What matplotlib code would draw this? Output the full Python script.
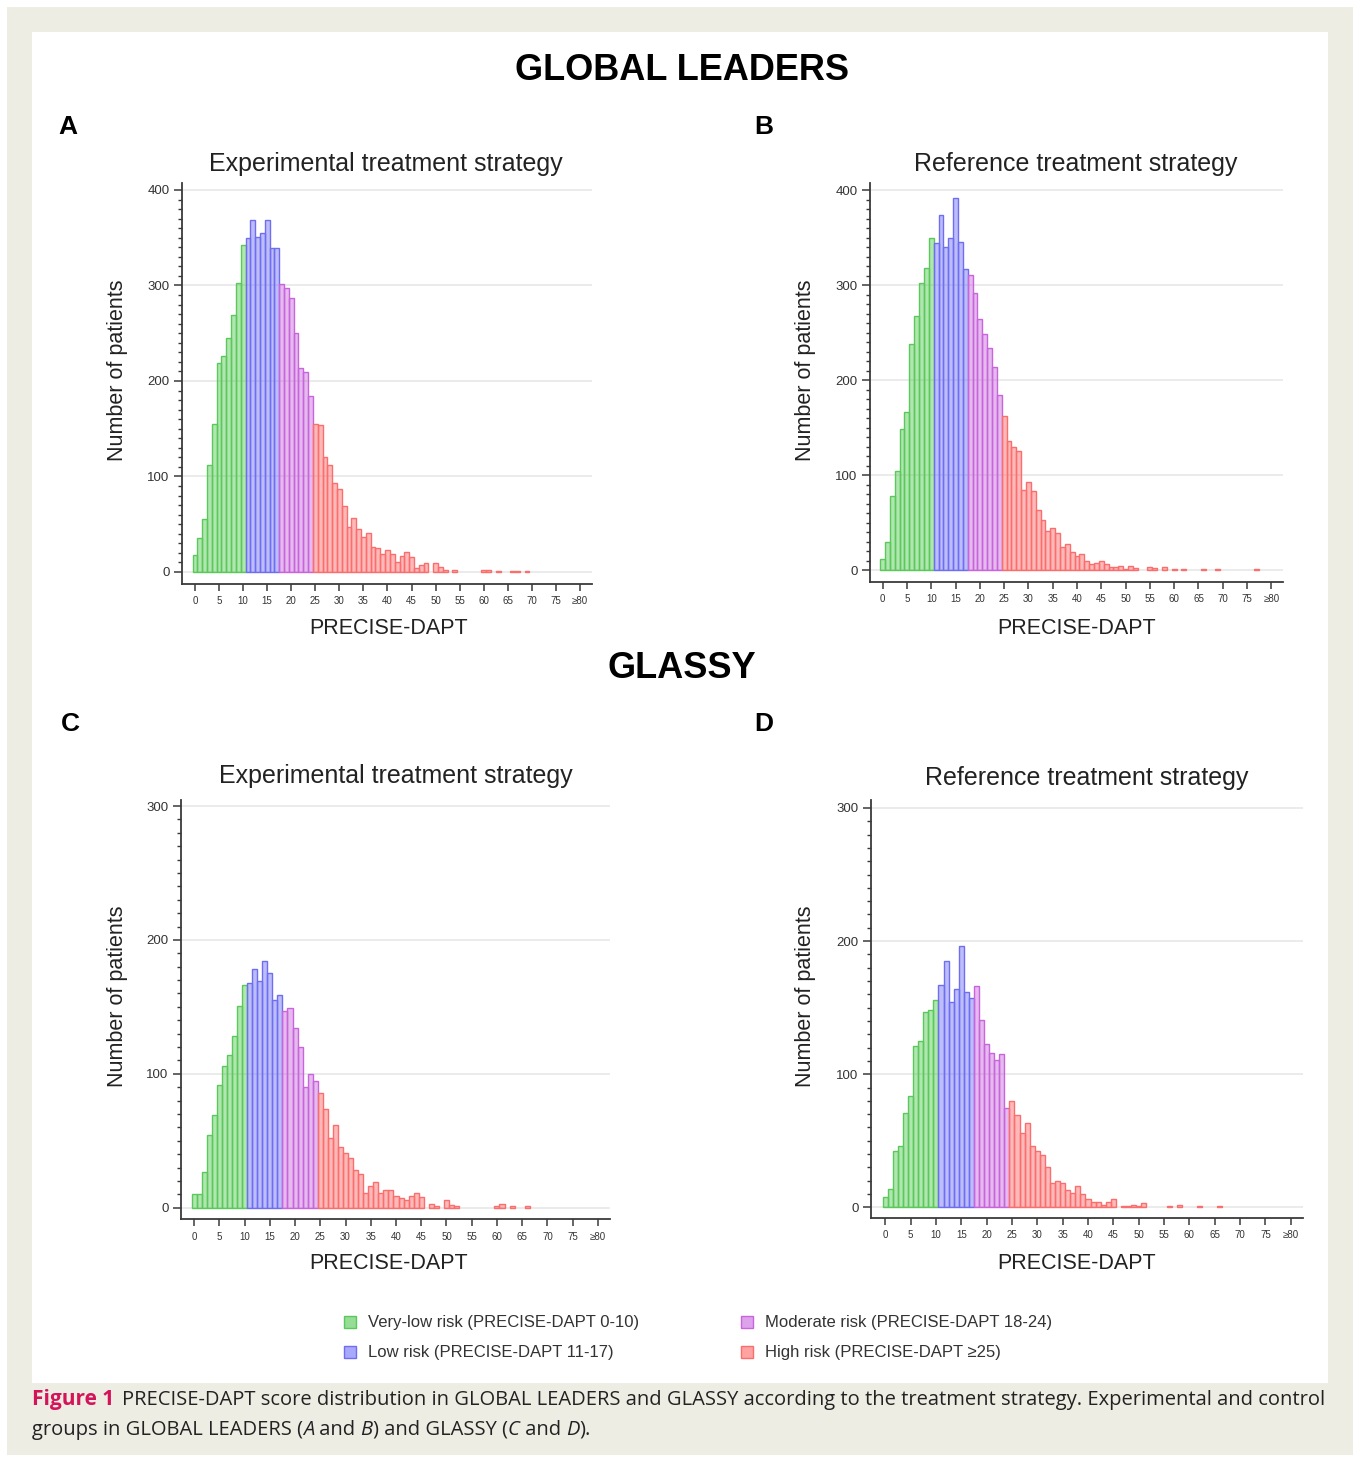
import matplotlib
matplotlib.use("Agg")
import matplotlib.pyplot as plt
from matplotlib.patches import Rectangle
import numpy as np

# ---------------- data ----------------
scores = list(range(0, 81))
xtick_vals = list(range(0, 81, 5))
xtick_labels = [str(v) for v in range(0, 80, 5)] + ["\u226580"]

def fill(d):
    return [d.get(s, 0) for s in scores]

gl_experimental = fill({
    0: 18, 1: 36, 2: 55, 3: 112, 4: 155, 5: 219, 6: 226, 7: 245, 8: 269, 9: 303, 10: 342,
    11: 350, 12: 369, 13: 351, 14: 355, 15: 369, 16: 339, 17: 339,
    18: 302, 19: 297, 20: 287, 21: 250, 22: 214, 23: 209, 24: 184,
    25: 155, 26: 154, 27: 120, 28: 112, 29: 93, 30: 87, 31: 69, 32: 47, 33: 56, 34: 45,
    35: 37, 36: 41, 37: 26, 38: 25, 39: 19, 40: 23, 41: 19, 42: 10, 43: 17, 44: 21,
    45: 16, 46: 4, 47: 7, 48: 9, 50: 9, 51: 5, 52: 2, 54: 2, 60: 2, 61: 2, 63: 1,
    66: 1, 67: 1, 69: 1})

gl_reference = fill({
    0: 12, 1: 30, 2: 78, 3: 104, 4: 149, 5: 167, 6: 238, 7: 267, 8: 302, 9: 318, 10: 350,
    11: 344, 12: 374, 13: 340, 14: 350, 15: 392, 16: 345, 17: 317,
    18: 311, 19: 292, 20: 264, 21: 249, 22: 234, 23: 214, 24: 184,
    25: 162, 26: 136, 27: 130, 28: 126, 29: 84, 30: 93, 31: 83, 32: 63, 33: 53, 34: 41,
    35: 44, 36: 39, 37: 25, 38: 28, 39: 19, 40: 15, 41: 17, 42: 10, 43: 7, 44: 8,
    45: 10, 46: 7, 47: 4, 48: 4, 49: 5, 50: 1, 51: 5, 52: 2, 55: 3, 56: 2, 58: 3,
    60: 1, 62: 1, 66: 1, 69: 1, 77: 1})

gs_experimental = fill({
    0: 10, 1: 10, 2: 27, 3: 54, 4: 69, 5: 92, 6: 106, 7: 114, 8: 128, 9: 151, 10: 166,
    11: 168, 12: 178, 13: 169, 14: 184, 15: 175, 16: 155, 17: 159,
    18: 147, 19: 149, 20: 134, 21: 120, 22: 90, 23: 100, 24: 95,
    25: 86, 26: 74, 27: 52, 28: 62, 29: 45, 30: 41, 31: 37, 32: 28, 33: 25, 34: 11,
    35: 16, 36: 19, 37: 11, 38: 13, 39: 13, 40: 9, 41: 7, 42: 6, 43: 9, 44: 11,
    45: 8, 47: 3, 48: 1, 50: 6, 51: 2, 52: 1, 60: 1, 61: 3, 63: 1, 66: 1})

gs_reference = fill({
    0: 8, 1: 14, 2: 42, 3: 46, 4: 71, 5: 84, 6: 121, 7: 125, 8: 147, 9: 148, 10: 156,
    11: 167, 12: 185, 13: 154, 14: 164, 15: 196, 16: 162, 17: 157,
    18: 166, 19: 141, 20: 123, 21: 116, 22: 111, 23: 115, 24: 75,
    25: 80, 26: 69, 27: 56, 28: 63, 29: 46, 30: 42, 31: 39, 32: 30, 33: 18, 34: 20,
    35: 18, 36: 13, 37: 11, 38: 16, 39: 10, 40: 6, 41: 4, 42: 4, 43: 2, 44: 4,
    45: 6, 47: 1, 48: 1, 49: 2, 50: 1, 51: 3, 56: 1, 58: 2, 62: 1, 66: 1})

risk_labels = ["Very-low risk (PRECISE-DAPT 0-10)", "Low risk (PRECISE-DAPT 11-17)",
               "Moderate risk (PRECISE-DAPT 18-24)", "High risk (PRECISE-DAPT \u226525)"]
risk_bounds = [(0, 10), (11, 17), (18, 24), (25, 80)]

# ---------------- style ----------------
FONT = "Liberation Sans"
plt.rcParams["font.family"] = [FONT, "DejaVu Sans"]
W, H = 1360, 1461
base_cols = [(80/255, 200/255, 80/255), (110/255, 110/255, 250/255),
             (200/255, 100/255, 220/255), (255/255, 100/255, 100/255)]
edge_cols = [(90/255, 200/255, 90/255), (110/255, 110/255, 240/255),
             (200/255, 100/255, 220/255), (250/255, 110/255, 110/255)]
ALPHA = 0.45

fig = plt.figure(figsize=(W/100, H/100), dpi=100, facecolor="white")

def px(x, y):
    return x / W, 1 - y / H

# backgrounds
fig.patches.append(Rectangle(px(7, 1455), (1353-7)/W, (1455-7)/H, transform=fig.transFigure,
                             facecolor="#eeede4", edgecolor="none", zorder=-10))
fig.patches.append(Rectangle(px(32, 1383), (1328-32)/W, (1383-32)/H, transform=fig.transFigure,
                             facecolor="white", edgecolor="none", zorder=-9))

def make_panel(rect, xlim, ylim, yticks, data):
    l, r, t, b = rect
    ax = fig.add_axes([l/W, 1-b/H, (r-l)/W, (b-t)/H])
    ax.set_facecolor("none")
    for sp in ["top", "right"]:
        ax.spines[sp].set_visible(False)
    for sp in ["left", "bottom"]:
        ax.spines[sp].set_color("#3a3a3a")
        ax.spines[sp].set_linewidth(1.3)
    ax.set_xlim(*xlim)
    ax.set_ylim(*ylim)
    for yv in yticks:
        ax.axhline(yv, color="#e8e8e8", lw=1.2, zorder=0)
    for (lo, hi), bc, ec in zip(risk_bounds, base_cols, edge_cols):
        xs = [s for s in scores if lo <= s <= hi and data[s] > 0]
        hs = [data[s] for s in xs]
        ax.bar(xs, hs, width=1.0, color=(*bc, ALPHA), edgecolor=ec, linewidth=1.0, zorder=2)
    ax.set_yticks(yticks)
    ax.set_yticks(np.arange(0, yticks[-1] + 1, 10), minor=True)
    ax.set_xticks(xtick_vals)
    ax.set_xticklabels(xtick_labels)
    ax.tick_params(axis="y", which="major", length=6, width=1.1, color="#3a3a3a",
                   labelsize=9.5, labelcolor="#333333", pad=3)
    ax.tick_params(axis="y", which="minor", length=3, width=1.0, color="#3a3a3a")
    ax.tick_params(axis="x", which="major", length=5, width=1.1, color="#3a3a3a",
                   labelsize=7, labelcolor="#333333", pad=4)
    return ax

make_panel((182, 592, 183, 584), (-2.7, 82.5), (-12.6, 407.3), [0, 100, 200, 300, 400], gl_experimental)
make_panel((870, 1283, 183, 582), (-2.6, 82.4), (-12.3, 407.4), [0, 100, 200, 300, 400], gl_reference)
make_panel((181, 610, 800, 1219), (-2.6, 82.4), (-8.4, 304.5), [0, 100, 200, 300], gs_experimental)
make_panel((871, 1303, 800, 1218), (-2.8, 82.4), (-8.0, 306.0), [0, 100, 200, 300], gs_reference)

def ftext(x, y, s, **kw):
    return fig.text(*px(x, y), s, **kw)

# headings
ftext(682, 66, "GLOBAL LEADERS", ha="center", va="center_baseline", fontsize=26, fontweight="bold")
ftext(682, 664, "GLASSY", ha="center", va="center_baseline", fontsize=26, fontweight="bold")
for lab, (x, y) in zip("ABCD", [(68, 124), (764, 124), (70, 722), (764, 722)]):
    ftext(x, y, lab, ha="center", va="center_baseline", fontsize=19, fontweight="bold")

titles = [("Experimental treatment strategy", 386, 161), ("Reference treatment strategy", 1076, 161),
          ("Experimental treatment strategy", 396, 774), ("Reference treatment strategy", 1087, 776)]
for s, x, y in titles:
    ftext(x, y, s, ha="center", va="center_baseline", fontsize=18, color="#222222")
for x, y in [(117, 370), (806, 370), (117, 996), (806, 996)]:
    ftext(x, y, "Number of patients", ha="center", va="center", rotation=90, fontsize=15.5, color="#222222")
for x, y in [(389, 626), (1077, 626), (389, 1261), (1077, 1261)]:
    ftext(x, y, "PRECISE-DAPT", ha="center", va="center_baseline", fontsize=15.5, color="#222222")

# legend
leg_pos = [(350, 1322), (350, 1352), (747, 1322), (747, 1352)]
for (x, y), lab, bc, ec in zip(leg_pos, risk_labels, base_cols, edge_cols):
    sq = 12
    fig.patches.append(Rectangle(px(x - sq/2, y + sq/2), sq/W, sq/H, transform=fig.transFigure,
                                 facecolor=(*bc, 0.6), edgecolor=ec, linewidth=1.0))
    ftext(x + 18, y, lab, ha="left", va="center", fontsize=12, color="#333333")

# caption
renderer = fig.canvas.get_renderer()
CAPF = ["Open Sans", "DejaVu Sans"]
t1 = ftext(32, 1400, "Figure 1", ha="left", va="center", fontsize=15, fontweight="bold",
           color="#d4145a", family=CAPF)
bb = t1.get_window_extent(renderer)
x_after = bb.x1 + 8
cap1 = ("PRECISE-DAPT score distribution in GLOBAL LEADERS and GLASSY according to the treatment "
        "strategy. Experimental and control")
t2 = fig.text(x_after / W, 1 - 1400 / H, cap1, ha="left", va="center", fontsize=14,
              color="#222222", family=CAPF)
w2 = t2.get_window_extent(renderer).width
fs = 14 * (1330 - x_after) / w2
t2.set_fontsize(fs)
parts = [("groups in GLOBAL LEADERS (", "normal"), ("A", "italic"), (" and ", "normal"), ("B", "italic"),
         (") and GLASSY (", "normal"), ("C", "italic"), (" and ", "normal"), ("D", "italic"), (").", "normal")]
xcur = 32
for s, st in parts:
    t = fig.text(xcur / W, 1 - 1430 / H, s, ha="left", va="center", fontsize=fs, style=st,
                 color="#222222", family=CAPF)
    xcur += t.get_window_extent(renderer).width

fig.savefig("out.png", dpi=100, facecolor="white")
